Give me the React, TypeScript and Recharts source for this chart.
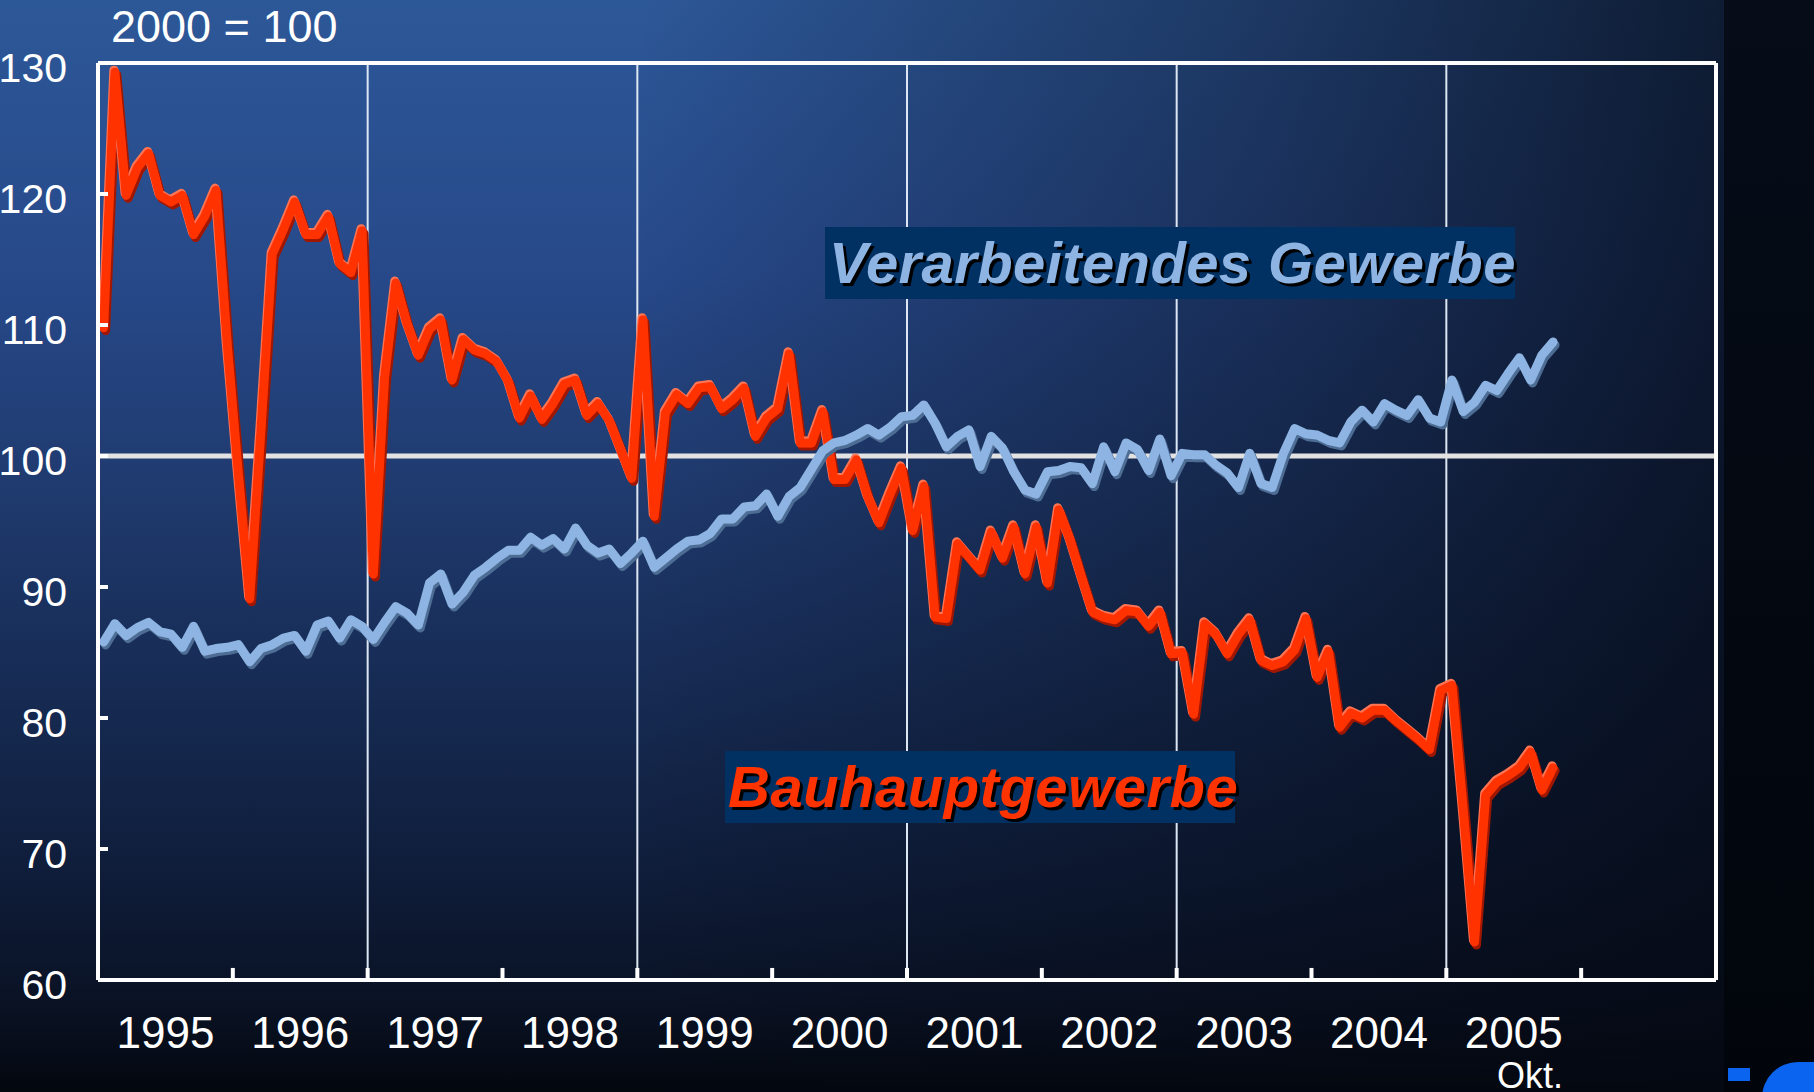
import { LineChart, Line, XAxis, YAxis, ReferenceLine } from "recharts";

// monthly index values, Jan 1995 .. Oct 2005 (2000 = 100)
const yearLabels = ["1995", "1996", "1997", "1998", "1999", "2000", "2001", "2002", "2003", "2004", "2005"];

const bauhauptgewerbe = [
  109.8, 129.3, 119.9, 122.0, 123.1, 119.9, 119.4, 119.9, 116.9, 118.3, 120.3, 108.5,
  98.5, 89.1, 102.0, 115.4, 117.3, 119.4, 116.9, 116.9, 118.3, 114.7, 114.0, 117.2,
  91.0, 106.0, 113.2, 110.1, 107.7, 109.7, 110.4, 105.8, 108.9, 108.1, 107.8, 107.2,
  105.7, 102.9, 104.6, 102.8, 104.0, 105.5, 105.8, 103.1, 104.0, 102.7, 100.5, 98.3,
  110.4, 95.4, 103.3, 104.7, 104.0, 105.2, 105.3, 103.6, 104.3, 105.2, 101.5, 102.9,
  103.6, 107.8, 101.0, 101.0, 103.4, 98.2, 98.2, 99.7, 96.9, 94.9, 97.1, 99.1,
  94.3, 97.7, 87.7, 87.6, 93.3, 92.3, 91.3, 94.2, 92.2, 94.6, 91.0, 94.6,
  90.3, 95.9, 93.6, 90.8, 88.1, 87.7, 87.5, 88.2, 88.1, 87.0, 88.1, 84.9,
  85.0, 80.3, 87.2, 86.4, 84.9, 86.4, 87.5, 84.4, 84.0, 84.3, 85.2, 87.6,
  83.1, 85.1, 79.3, 80.4, 80.0, 80.6, 80.6, 79.8, 79.1, 78.4, 77.6, 82.1,
  82.5, 73.0, 62.9, 74.1, 75.1, 75.6, 76.2, 77.4, 74.5, 76.2,
];

const verarbeitendesGewerbe = [
  85.8, 87.2, 86.3, 86.9, 87.3, 86.6, 86.4, 85.4, 87.0, 85.1, 85.3, 85.4,
  85.6, 84.3, 85.3, 85.6, 86.1, 86.3, 85.1, 87.1, 87.4, 86.1, 87.5, 87.0,
  86.0, 87.3, 88.5, 88.0, 87.1, 90.3, 91.0, 88.7, 89.6, 90.9, 91.5, 92.2,
  92.8, 92.8, 93.8, 93.2, 93.7, 92.9, 94.5, 93.2, 92.6, 92.9, 91.8, 92.6,
  93.5, 91.5, 92.2, 92.9, 93.5, 93.6, 94.1, 95.2, 95.2, 96.1, 96.2, 97.1,
  95.4, 96.9, 97.6, 99.0, 100.4, 101.0, 101.2, 101.6, 102.1, 101.6, 102.2, 103.0,
  103.1, 103.9, 102.5, 100.7, 101.5, 102.0, 99.2, 101.5, 100.6, 98.8, 97.4, 97.1,
  98.8, 98.9, 99.2, 99.1, 97.9, 100.7, 98.8, 101.0, 100.5, 98.9, 101.3, 98.5,
  100.2, 100.1, 100.1, 99.3, 98.7, 97.6, 100.2, 97.9, 97.6, 100.2, 102.1, 101.7,
  101.6, 101.2, 101.0, 102.6, 103.5, 102.6, 104.0, 103.5, 103.1, 104.3, 102.9, 102.6,
  105.8, 103.4, 104.1, 105.4, 105.0, 106.3, 107.5, 105.8, 107.7, 108.7,
];

const yTicks = [60, 70, 80, 90, 100, 110, 120, 130];
const gridMonths = [24, 48, 72, 96, 120];

const data = bauhauptgewerbe.map((v, i) => ({
  month: i + 0.5,
  bau: v,
  verarb: verarbeitendesGewerbe[i],
}));
const labelTicks = yearLabels.map((_, k) => k * 12 + 6);
const yearTicks = yearLabels.map((_, k) => (k + 1) * 12);

const FONT = '"Liberation Sans", Arial, sans-serif';

export default function App() {
  return (
    <div
      style={{
        position: "absolute",
        left: 0,
        top: 0,
        width: 1814,
        height: 1092,
        overflow: "hidden",
        fontFamily: FONT,
        background:
          "linear-gradient(to right, rgba(4,8,18,0) 0%, rgba(4,8,18,0) 35%, rgba(4,8,18,0.4) 70%, rgba(4,8,18,0.75) 95%), linear-gradient(to bottom, #2d5898 0%, #27498a 25%, #1f3a6e 45%, #172c55 62%, #0f1d3a 80%, #0a1224 92%, #03070e 100%)",
      }}
    >
      <style>{`
        .bau-line .recharts-curve { filter: url(#bevelOrange); }
        .verarb-line .recharts-curve { filter: url(#bevelBlue); }
      `}</style>
      <svg width="0" height="0" style={{ position: "absolute" }}>
        <defs>
          <filter id="bevelOrange" x="-5%" y="-10%" width="110%" height="120%">
            <feOffset in="SourceAlpha" dx="2" dy="3" result="offDark" />
            <feFlood floodColor="#a01800" result="dark" />
            <feComposite in="dark" in2="offDark" operator="in" result="shadow" />
            <feOffset in="SourceAlpha" dx="-1" dy="-2" result="offLight" />
            <feFlood floodColor="#ff7552" result="light" />
            <feComposite in="light" in2="offLight" operator="in" result="highlight" />
            <feMerge>
              <feMergeNode in="shadow" />
              <feMergeNode in="highlight" />
              <feMergeNode in="SourceGraphic" />
            </feMerge>
          </filter>
          <filter id="bevelBlue" x="-5%" y="-20%" width="110%" height="140%">
            <feOffset in="SourceAlpha" dx="2" dy="3" result="offDark" />
            <feFlood floodColor="#4e6d95" result="dark" />
            <feComposite in="dark" in2="offDark" operator="in" result="shadow" />
            <feMerge>
              <feMergeNode in="shadow" />
              <feMergeNode in="SourceGraphic" />
            </feMerge>
          </filter>
        </defs>
      </svg>

      <div
        style={{
          position: "absolute",
          left: 1724,
          top: 0,
          width: 90,
          height: 1092,
          background: "linear-gradient(to bottom, #060c18, #01050b)",
        }}
      />

      <div style={{ position: "absolute", left: 0, top: 0 }}>
        <LineChart width={1814} height={1092} data={data} margin={{ top: 63, right: 0, bottom: 0, left: 0 }}>
          <XAxis
            xAxisId="years"
            dataKey="month"
            type="number"
            domain={[0, 144]}
            ticks={labelTicks}
            interval={0}
            tickFormatter={(v) => yearLabels[Math.round((v - 6) / 12)]}
            tickLine={false}
            tickSize={0}
            tickMargin={37}
            axisLine={{ stroke: "#ffffff", strokeWidth: 4 }}
            tick={{ fill: "#ffffff", fontSize: 44 }}
            height={112}
          />
          <YAxis
            yAxisId="left"
            domain={[60, 130]}
            ticks={yTicks}
            interval={0}
            width={98}
            tickSize={-10}
            tickMargin={41}
            axisLine={{ stroke: "#ffffff", strokeWidth: 4 }}
            tickLine={{ stroke: "#ffffff", strokeWidth: 4 }}
            tick={{ fill: "#ffffff", fontSize: 41, dy: 4 }}
          />
          <YAxis
            yAxisId="right"
            orientation="right"
            domain={[60, 130]}
            ticks={yTicks}
            interval={0}
            width={98}
            tickSize={-10}
            tickMargin={41}
            axisLine={{ stroke: "#ffffff", strokeWidth: 4 }}
            tickLine={{ stroke: "#ffffff", strokeWidth: 4 }}
            tick={{ fill: "#ffffff", fontSize: 41, dy: 4 }}
          />
          {gridMonths.map((m) => (
            <ReferenceLine key={`g${m}`} xAxisId="years" yAxisId="left" x={m} stroke="#dde7f4" strokeWidth={2} />
          ))}
          {yearTicks.map((m) => (
            <ReferenceLine
              key={`t${m}`}
              xAxisId="years"
              yAxisId="left"
              segment={[
                { x: m, y: 60 },
                { x: m, y: 60.92 },
              ]}
              stroke="#ffffff"
              strokeWidth={4}
            />
          ))}
          <ReferenceLine xAxisId="years" yAxisId="left" y={100} stroke="#e2e2e2" strokeWidth={5} />
          <ReferenceLine xAxisId="years" yAxisId="left" y={130} stroke="#ffffff" strokeWidth={4} />
          <Line
            className="bau-line"
            xAxisId="years"
            yAxisId="left"
            type="linear"
            dataKey="bau"
            stroke="#ff3300"
            strokeWidth={9}
            strokeLinejoin="round"
            strokeLinecap="round"
            dot={false}
            activeDot={false}
            isAnimationActive={false}
          />
          <Line
            className="verarb-line"
            xAxisId="years"
            yAxisId="left"
            type="linear"
            dataKey="verarb"
            stroke="#8db4e2"
            strokeWidth={9}
            strokeLinejoin="round"
            strokeLinecap="round"
            dot={false}
            activeDot={false}
            isAnimationActive={false}
          />
        </LineChart>
      </div>

      <div style={{ position: "absolute", left: 111, top: 4, color: "#ffffff", fontSize: 45, lineHeight: "45px", whiteSpace: "nowrap" }}>
        2000 = 100
      </div>

      <div
        style={{
          position: "absolute",
          left: 825,
          top: 227,
          width: 690,
          height: 72,
          background: "#013063",
          color: "#8db4e2",
          fontSize: 58,
          fontWeight: "bold",
          fontStyle: "italic",
          lineHeight: "72px",
          letterSpacing: 0.4,
          paddingLeft: 4,
          boxSizing: "border-box",
          whiteSpace: "nowrap",
          textShadow: "3px 3px 0 #000000",
        }}
      >
        Verarbeitendes Gewerbe
      </div>

      <div
        style={{
          position: "absolute",
          left: 725,
          top: 751,
          width: 510,
          height: 72,
          background: "#013063",
          color: "#ff3300",
          fontSize: 58,
          fontWeight: "bold",
          fontStyle: "italic",
          lineHeight: "72px",
          letterSpacing: 0.5,
          paddingLeft: 3,
          boxSizing: "border-box",
          whiteSpace: "nowrap",
          textShadow: "3px 3px 0 #000000",
        }}
      >
        Bauhauptgewerbe
      </div>

      <div style={{ position: "absolute", left: 1497, top: 1058, color: "#ffffff", fontSize: 36, lineHeight: "36px", whiteSpace: "nowrap" }}>
        Okt.
      </div>

      <div style={{ position: "absolute", left: 1728, top: 1068, width: 22, height: 13, background: "#0a64f0" }} />
      <div
        style={{
          position: "absolute",
          left: 1762,
          top: 1062,
          width: 60,
          height: 40,
          background: "#0a64f0",
          borderTopLeftRadius: 36,
        }}
      />
    </div>
  );
}
